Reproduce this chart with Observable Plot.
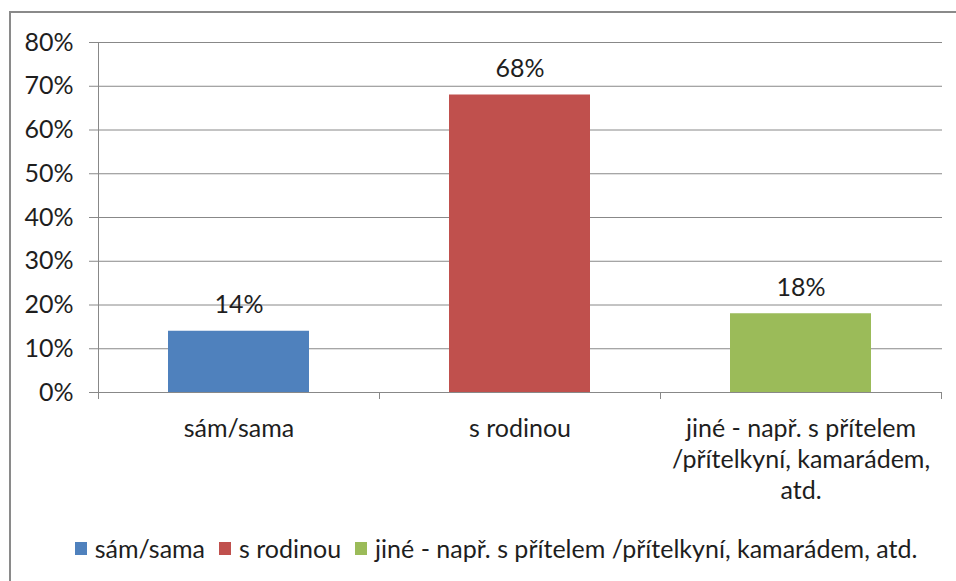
<!DOCTYPE html>
<html>
<head>
<meta charset="utf-8">
<script src="https://cdn.jsdelivr.net/npm/d3@7"></script>
<script src="https://cdn.jsdelivr.net/npm/@observablehq/plot@0.6"></script>
<style>
  html, body { margin: 0; padding: 0; background: #fff; overflow: hidden; }
  #wrap { position: relative; width: 956px; height: 581px; overflow: hidden; font-family: Lato, "Open Sans", sans-serif; }
  #border { position: absolute; left: 9px; top: 11px; width: 1000px; height: 700px; border: 2px solid #8a8a8a; box-sizing: border-box; }
  #chart { position: absolute; left: 0; top: 0; }
  #legend { position: absolute; left: 18px; top: 533px; width: 956px; height: 30px; line-height: 30px; display: flex; justify-content: center; align-items: center; font-size: 25px; color: #1e1e1e; white-space: nowrap; }
  .sw { display: inline-flex; align-items: center; margin-right: 14px; }
  .sw:last-child { margin-right: 0; }
  .sq { width: 12px; height: 13px; margin-right: 8px; display: inline-block; }
</style>
</head>
<body>
<div id="wrap">
  <div id="border"></div>
  <div id="chart"></div>
  <div id="legend"></div>
</div>
<script>
const categories = ["sám/sama", "s rodinou", "jiné - např. s přítelem /přítelkyní, kamarádem, atd."];
const axisLabels = ["sám/sama", "s rodinou", "jiné - např. s přítelem\n/přítelkyní, kamarádem,\natd."];
const values = [0.14, 0.68, 0.18];
const colors = ["#4F81BD", "#C0504D", "#9BBB59"];
const yTicks = [0, 0.1, 0.2, 0.3, 0.4, 0.5, 0.6, 0.7, 0.8];

const data = categories.map((c, i) => ({category: c, value: values[i], label: axisLabels[i]}));
const gridColor = "#888888";
const textColor = "#1e1e1e";
const fontSize = 25;

function categoryAxis(index, scales, vals, dims) {
  const x = scales.x, y = scales.y;
  const bw = x.bandwidth();
  const step = x(categories[1]) - x(categories[0]);
  const g = d3.create("svg:g").attr("stroke", gridColor).attr("stroke-width", 1);
  const x0 = x(categories[0]) + bw / 2 - step / 2;
  const yb = y(0);
  g.append("line").attr("x1", x0 + 0.5).attr("x2", x0 + 0.5).attr("y1", y(0.8)).attr("y2", yb + 7);
  for (let i = 1; i <= categories.length; i++) {
    const xi = Math.round(x0 + i * step) + 0.5;
    g.append("line").attr("x1", xi).attr("x2", xi).attr("y1", yb).attr("y2", yb + 7);
  }
  return g.node();
}

const chart = Plot.plot({
  width: 956,
  height: 520,
  marginLeft: 97,
  marginRight: 14,
  marginTop: 42,
  marginBottom: 128,
  style: {fontFamily: "Lato, 'Open Sans', sans-serif", background: "transparent", color: textColor},
  x: {domain: categories, paddingInner: 0.5, paddingOuter: 0.25, axis: null},
  y: {domain: [0, 0.8], ticks: yTicks, tickFormat: d3.format(".0%"), label: null},
  color: {domain: categories, range: colors},
  marks: [
    Plot.gridY(yTicks, {stroke: gridColor, strokeOpacity: 1}),
    Plot.axisY(yTicks, {tickSize: 8, tickPadding: 16, stroke: gridColor, strokeOpacity: 1, fontSize: fontSize, fill: textColor, label: null, tickFormat: d3.format(".0%")}),
    Plot.barY(data, {x: "category", y: "value", fill: "category"}),
    categoryAxis,
    Plot.text(data, {x: "category", y: "value", text: d => d3.format(".0%")(d.value), dy: -18, lineAnchor: "bottom", fontSize: fontSize, fill: textColor}),
    Plot.text(data, {x: "category", frameAnchor: "bottom", text: "label", lineAnchor: "top", dy: 22, lineHeight: 1.24, fontSize: fontSize, fill: textColor})
  ]
});
document.getElementById("chart").appendChild(chart);

const legend = document.getElementById("legend");
categories.forEach((c, i) => {
  const s = document.createElement("span");
  s.className = "sw";
  const q = document.createElement("span");
  q.className = "sq";
  q.style.background = colors[i];
  s.appendChild(q);
  s.appendChild(document.createTextNode(c));
  legend.appendChild(s);
});
</script>
</body>
</html>
